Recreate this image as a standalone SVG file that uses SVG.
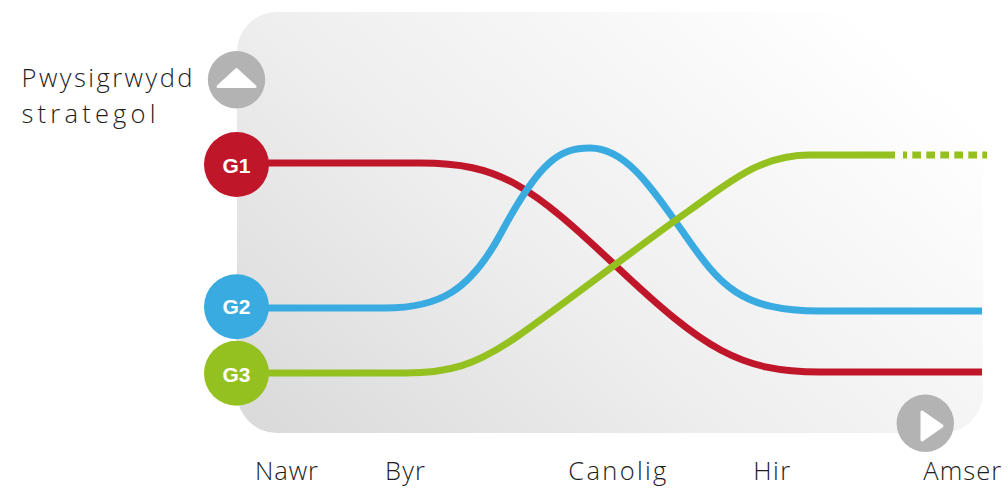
<svg xmlns="http://www.w3.org/2000/svg" width="1008" height="488" viewBox="0 0 1008 488">
  <defs>
    <linearGradient id="bg" gradientUnits="userSpaceOnUse" x1="237" y1="433" x2="710" y2="-115">
      <stop offset="0" stop-color="#d9d9d9"/>
      <stop offset="0.45" stop-color="#eeeeee"/>
      <stop offset="1" stop-color="#ffffff"/>
    </linearGradient>
  </defs>
  <style>
    .lbl { font-family: "Open Sans", "Liberation Sans", Arial, sans-serif; font-size: 25.5px; font-weight: 300; fill: #1e1e1e; }
    .node-text { font-family: "Liberation Sans", Arial, sans-serif; font-size: 21px; font-weight: bold; fill: #fff; text-anchor: middle; }
    .line { fill: none; stroke-width: 7; }
    .red { stroke: #c0162a; }
    .blue { stroke: #39abe1; }
    .green { stroke: #94c11f; }
    .axis { fill: #b3b3b3; }
    .arrow { fill: #fff; stroke: #fff; stroke-width: 3; stroke-linejoin: round; }
  </style>

  <rect x="237" y="12" width="746" height="421" rx="40" ry="40" fill="url(#bg)"/>

  <g id="connectors">
    <path class="line red" d="M237,163 H420 C500,163 530,185 617,267 C704,349 740,372 820,372 H982"/>
    <path class="line blue" d="M237,308 H385 C440,308 470,290 500,235 C540,160 560,148 590,148 C625,148 650,185 685,235 C720,285 740,311 820,311 H982"/>
    <path class="line green" d="M237,373 H405 C450,373 475,365 515,338 C560,307 640,245 690,210 C730,182 760,155 810,155 H895"/>
    <path class="line green" d="M903,155 H987" stroke-dasharray="8.7 5.3" stroke-dashoffset="4.7"/>
  </g>

  <g id="axis-up">
    <circle class="axis" cx="236.5" cy="79.7" r="28.7"/>
    <polygon class="arrow" points="218,86.5 236.5,69.5 255,86.5"/>
  </g>

  <g id="axis-right">
    <circle class="axis" cx="925.3" cy="423.3" r="28.7"/>
    <polygon class="arrow" points="922,412 942,426 922,440"/>
  </g>

  <g id="g1">
    <circle cx="236.5" cy="164.5" r="32.5" fill="#c0162a"/>
    <text class="node-text" x="236.5" y="172.5">G1</text>
  </g>
  <g id="g2">
    <circle cx="236.5" cy="306.7" r="32.5" fill="#39abe1"/>
    <text class="node-text" x="236.5" y="314.3">G2</text>
  </g>
  <g id="g3">
    <circle cx="236.5" cy="373.3" r="32.5" fill="#94c11f"/>
    <text class="node-text" x="236.5" y="381.5">G3</text>
  </g>

  <g id="labels">
    <text class="lbl" x="21.5" y="86.7" textLength="171" lengthAdjust="spacing">Pwysigrwydd</text>
    <text class="lbl" x="21.5" y="122.7" textLength="134" lengthAdjust="spacing">strategol</text>
    <text class="lbl" x="255" y="480" textLength="63" lengthAdjust="spacing">Nawr</text>
    <text class="lbl" x="385" y="480" textLength="40" lengthAdjust="spacing">Byr</text>
    <text class="lbl" x="568.3" y="480" textLength="98" lengthAdjust="spacing">Canolig</text>
    <text class="lbl" x="753.3" y="480" textLength="37" lengthAdjust="spacing">Hir</text>
    <text class="lbl" x="923.3" y="480" textLength="78" lengthAdjust="spacing">Amser</text>
  </g>
</svg>
